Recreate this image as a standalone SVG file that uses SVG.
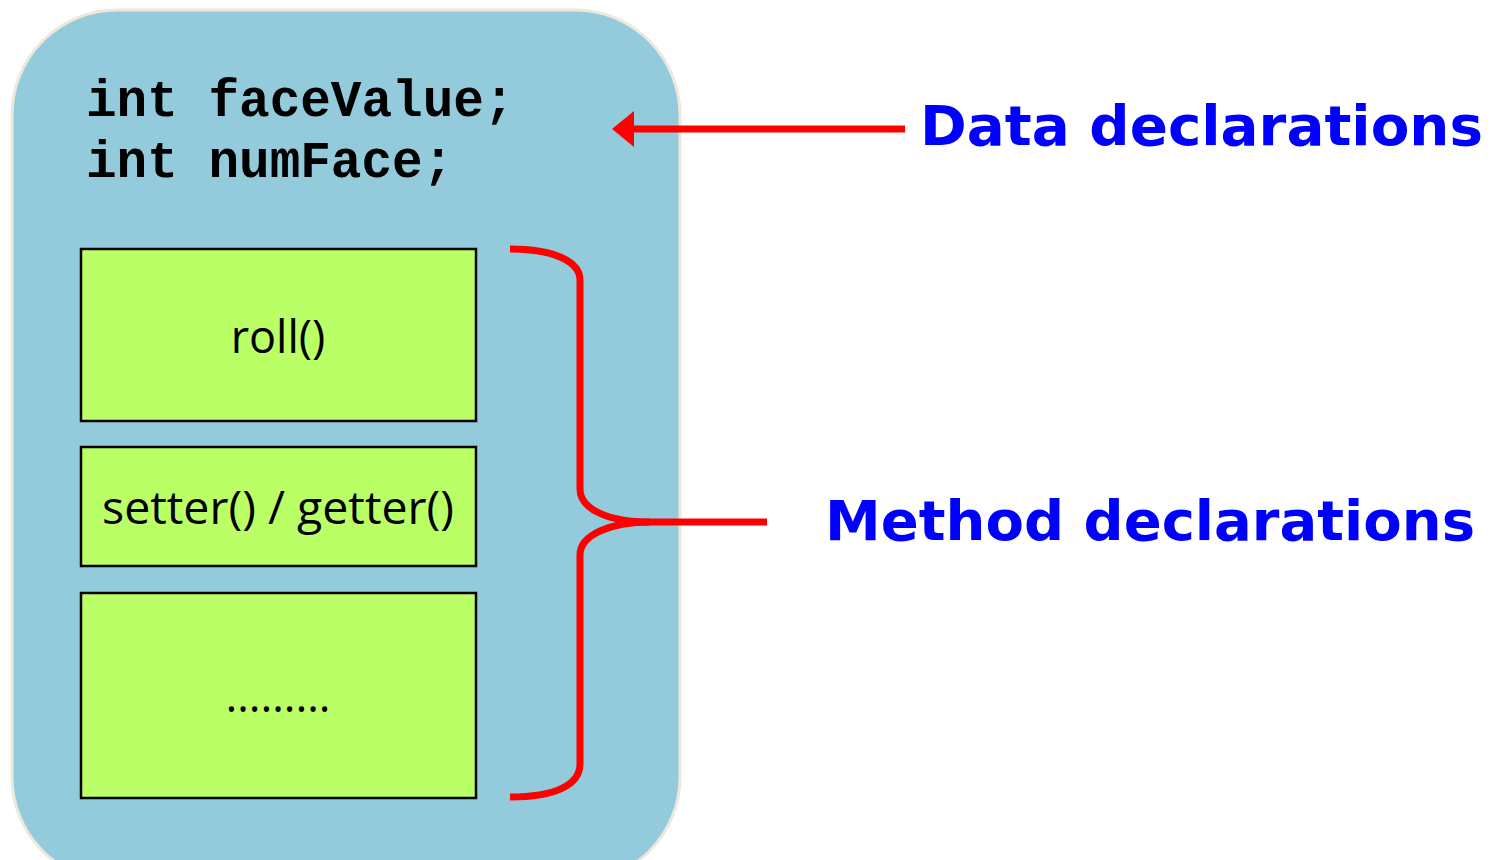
<svg xmlns="http://www.w3.org/2000/svg" width="1497" height="860" viewBox="0 0 1497 860">
  <style>
    .code { font-family: "Liberation Mono", "Courier New", monospace; font-weight: bold; font-size: 51px; fill: #000; }
    .box { fill: #bbff66; stroke: #000; stroke-width: 2.5; }
    .method { font-family: "Open Sans", "Liberation Sans", sans-serif; font-size: 45px; fill: #000; text-anchor: middle; }
    .label { font-family: "DejaVu Sans", Verdana, sans-serif; font-weight: bold; font-size: 56px; fill: #0000ff; }
    .red { fill: none; stroke: #ff0000; stroke-width: 7; }
  </style>
  <defs>
    <marker id="arrowhead" markerUnits="userSpaceOnUse" markerWidth="24" markerHeight="36" refX="0" refY="18" orient="auto">
      <path d="M0,0 L22,18 L0,36 Z" fill="#ff0000"/>
    </marker>
  </defs>

  <rect width="1497" height="860" fill="#ffffff"/>

  <!-- class body -->
  <g id="class-body">
    <rect x="12" y="10" width="668" height="872" rx="105" ry="105" fill="#94cbdc" stroke="#ece9dc" stroke-width="3"/>
    <text class="code" x="86" y="116">int faceValue;</text>
    <text class="code" x="86" y="177">int numFace;</text>
  </g>

  <g id="method-roll">
    <rect class="box" x="81" y="249" width="395" height="172"/>
    <text class="method" x="278" y="353">roll()</text>
  </g>

  <g id="method-accessors">
    <rect class="box" x="81" y="447" width="395" height="119"/>
    <text class="method" x="278" y="524" textLength="352" lengthAdjust="spacingAndGlyphs">setter() / getter()</text>
  </g>

  <g id="method-more">
    <rect class="box" x="81" y="593" width="395" height="205"/>
    <text class="method" x="278" y="712">………</text>
  </g>

  <g id="label-data">
    <text class="label" x="920" y="145" textLength="563" lengthAdjust="spacingAndGlyphs">Data declarations</text>
  </g>

  <g id="label-methods">
    <text class="label" x="825" y="540" textLength="650" lengthAdjust="spacingAndGlyphs">Method declarations</text>
  </g>

  <!-- connectors -->
  <g id="connectors">
    <path class="red" d="M905,129 H634" stroke-width="5" marker-end="url(#arrowhead)"/>
    <path class="red" d="M510,249 C555,249 580,262 580,280 L580,489 C580,510 610,522 650,522 M650,522 C610,522 580,535 580,555 L580,764 C580,785 555,797 510,797"/>
    <path class="red" d="M620,522 H767"/>
  </g>
</svg>
